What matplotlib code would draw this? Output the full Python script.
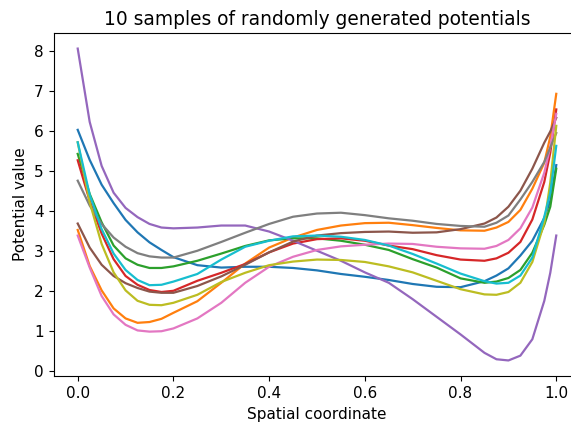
import matplotlib
matplotlib.use("Agg")
import matplotlib.pyplot as plt

# sample positions along the spatial coordinate
x = [0.0, 0.025, 0.05, 0.075, 0.1, 0.125, 0.15, 0.175, 0.2, 0.25, 0.3, 0.35, 0.4, 0.45,
     0.5, 0.55, 0.6, 0.65, 0.7, 0.75, 0.8, 0.85, 0.875, 0.9, 0.925, 0.95, 0.975, 0.9875, 1.0]

# potential values, one list per sample (tab10 order)
pot_0 = [6.02, 5.27, 4.65, 4.19, 3.77, 3.46, 3.21, 3.02, 2.84, 2.64, 2.58, 2.60, 2.60, 2.57,
         2.51, 2.42, 2.35, 2.27, 2.17, 2.10, 2.09, 2.24, 2.38, 2.56, 2.88, 3.25, 3.82, 4.25, 5.14]
pot_1 = [3.52, 2.62, 2.01, 1.56, 1.31, 1.20, 1.22, 1.30, 1.45, 1.74, 2.20, 2.68, 3.08, 3.33,
         3.52, 3.63, 3.69, 3.70, 3.64, 3.57, 3.51, 3.50, 3.58, 3.72, 4.02, 4.55, 5.2, 5.85, 6.92]
pot_2 = [5.42, 4.42, 3.71, 3.13, 2.81, 2.65, 2.57, 2.57, 2.61, 2.75, 2.93, 3.12, 3.26, 3.31,
         3.31, 3.25, 3.15, 3.02, 2.79, 2.58, 2.31, 2.20, 2.23, 2.32, 2.52, 2.95, 3.65, 4.10, 5.05]
pot_3 = [5.26, 4.25, 3.43, 2.79, 2.37, 2.15, 2.02, 1.97, 2.00, 2.25, 2.45, 2.67, 2.96, 3.18,
         3.29, 3.31, 3.25, 3.13, 3.04, 2.89, 2.78, 2.75, 2.81, 2.95, 3.22, 3.78, 4.72, 5.45, 6.53]
pot_4 = [8.05, 6.22, 5.12, 4.45, 4.07, 3.84, 3.67, 3.58, 3.56, 3.58, 3.63, 3.63, 3.48, 3.25,
         3.00, 2.75, 2.46, 2.20, 1.79, 1.35, 0.91, 0.45, 0.29, 0.26, 0.38, 0.79, 1.75, 2.45, 3.38]
pot_5 = [3.68, 3.08, 2.65, 2.37, 2.19, 2.07, 1.98, 1.95, 1.95, 2.12, 2.36, 2.65, 2.96, 3.23,
         3.38, 3.44, 3.47, 3.48, 3.45, 3.46, 3.54, 3.68, 3.83, 4.10, 4.50, 5.05, 5.70, 5.98, 6.32]
pot_6 = [3.38, 2.58, 1.87, 1.41, 1.15, 1.01, 0.98, 0.99, 1.06, 1.31, 1.70, 2.20, 2.60, 2.85,
         3.02, 3.11, 3.15, 3.18, 3.17, 3.10, 3.06, 3.05, 3.12, 3.27, 3.56, 4.08, 4.95, 5.60, 6.42]
pot_7 = [4.75, 4.13, 3.67, 3.33, 3.10, 2.94, 2.86, 2.83, 2.83, 3.00, 3.22, 3.45, 3.67, 3.85,
         3.93, 3.95, 3.89, 3.81, 3.75, 3.67, 3.62, 3.60, 3.70, 3.88, 4.28, 4.72, 5.22, 5.58, 5.94]
pot_8 = [5.71, 4.21, 3.17, 2.46, 2.01, 1.75, 1.65, 1.64, 1.70, 1.90, 2.22, 2.45, 2.64, 2.73,
         2.78, 2.77, 2.72, 2.61, 2.46, 2.25, 2.04, 1.91, 1.90, 1.97, 2.20, 2.72, 3.70, 4.70, 6.12]
pot_9 = [5.71, 4.40, 3.54, 2.93, 2.52, 2.27, 2.14, 2.15, 2.23, 2.42, 2.78, 3.10, 3.25, 3.36,
         3.38, 3.35, 3.27, 3.13, 2.92, 2.68, 2.43, 2.24, 2.18, 2.20, 2.38, 2.83, 3.85, 4.45, 5.62]

potentials = [pot_0, pot_1, pot_2, pot_3, pot_4, pot_5, pot_6, pot_7, pot_8, pot_9]

plt.rcParams["font.size"] = 11
plt.rcParams["xtick.major.size"] = 3.7
plt.rcParams["ytick.major.size"] = 3.7

fig = plt.figure(figsize=(5.71, 4.23), dpi=100)
# axes run a little past the right edge, like the cropped reference
ax = fig.add_axes([0.0942, 0.111, 0.9219, 0.811])

for i, pot in enumerate(potentials):
    ax.plot(x, pot, color="C%d" % i, linewidth=1.6)

ax.set_title("10 samples of randomly generated potentials", fontsize=13.4)
ax.set_xlabel("Spatial coordinate")
ax.set_ylabel("Potential value")
ax.set_xticks([0.0, 0.2, 0.4, 0.6, 0.8, 1.0])

fig.savefig("out.png", dpi=100)
